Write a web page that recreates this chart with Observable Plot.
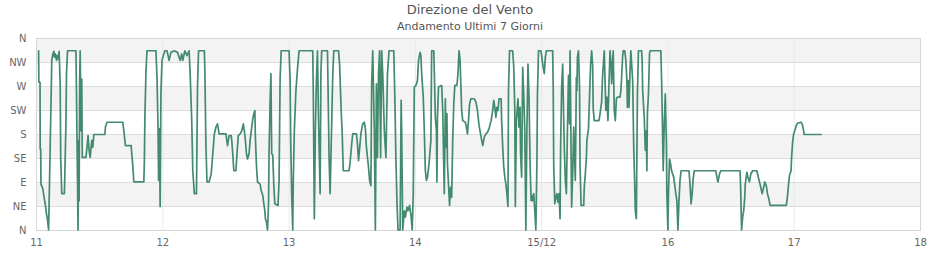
<!DOCTYPE html>
<html>
<head>
<meta charset="utf-8">
<script src="https://cdn.jsdelivr.net/npm/d3@7"></script>
<script src="https://cdn.jsdelivr.net/npm/@observablehq/plot@0.6"></script>
<style>
  body { margin: 0; background: #fff; font-family: "DejaVu Sans", sans-serif; }
  #head { position: relative; width: 940px; height: 32px; }
  #head .t1 { position: absolute; left: 0; top: 2px; width: 940px; text-align: center; font-size: 13px; color: #555; }
  #head .t2 { position: absolute; left: 0; top: 20px; width: 940px; text-align: center; font-size: 11px; color: #555; }
  #chart svg { display: block; }
</style>
</head>
<body>
<div id="head"><div class="t1">Direzione del Vento</div><div class="t2">Andamento Ultimi 7 Giorni</div></div>
<div id="chart"></div>
<script>
// Wind direction readings: [hour of the day, direction in degrees], one list per day of December
const day11 = [[0.4,337],[0.45,278],[0.67,278],[0.7,153],[0.8,153],[0.85,87],[1.2,78],[1.5,59],[1.7,47],[1.9,31],[2.1,19],[2.3,1],[2.4,53],[2.6,156],[2.8,262],[2.9,319],[3.1,331],[3.3,336],[3.4,325],[3.6,331],[3.8,319],[3.95,328],[4.1,322],[4.3,336],[4.5,275],[4.6,137],[4.8,69],[5.3,69],[5.4,112],[5.6,203],[5.7,294],[5.9,337],[7.5,337],[7.6,256],[7.8,87],[7.9,1],[8.0,169],[8.1,56],[8.2,281],[8.3,337],[8.45,187],[8.6,284],[8.7,137],[9.4,137],[9.6,156],[9.8,178],[10.0,150],[10.2,137],[10.5,169],[10.7,156],[10.9,180],[13.0,180],[13.1,194],[13.4,203],[16.4,203],[16.7,178],[16.9,159],[18.0,159],[18.1,144],[18.3,122],[18.5,91],[20.4,91],[20.5,131],[20.6,212],[20.8,297],[21.0,337],[22.7,337],[22.9,287],[23.1,191],[23.2,94],[23.35,191],[23.5,45],[23.65,259],[23.85,319]];
const day12 = [[0.1,328],[0.4,337],[0.8,337],[1.2,319],[1.55,334],[2.2,337],[2.8,334],[3.3,319],[3.6,331],[3.8,319],[4.2,337],[4.6,328],[5.0,337],[5.2,294],[5.5,206],[5.7,112],[6.0,69],[6.4,69],[6.6,269],[6.8,337],[7.9,337],[8.0,297],[8.2,159],[8.4,91],[8.8,91],[9.2,106],[9.5,144],[9.8,181],[10.1,194],[10.4,200],[10.7,181],[12.0,181],[12.3,159],[12.6,178],[13.0,178],[13.1,169],[13.3,144],[13.5,112],[13.9,112],[14.1,144],[14.35,178],[14.7,181],[15.0,187],[15.3,200],[15.5,187],[15.7,169],[15.9,144],[16.1,134],[16.4,144],[16.6,169],[16.9,194],[17.1,209],[17.3,219],[17.5,225],[17.6,175],[17.8,122],[18.0,91],[18.5,87],[18.7,75],[19.0,66],[19.2,50],[19.4,37],[19.5,22],[19.7,16],[19.9,1],[20.1,50],[20.2,147],[20.4,244],[20.55,294],[20.7,144],[20.9,141],[21.1,84],[21.3,50],[21.9,47],[22.1,94],[22.3,287],[22.5,337]];
const day13 = [[0.0,337],[0.2,281],[0.3,172],[0.5,66],[0.7,1],[0.8,94],[1.0,187],[1.3,262],[1.6,303],[1.9,337],[4.5,337],[4.6,259],[4.8,22],[5.0,187],[5.2,284],[5.4,337],[5.6,206],[5.9,69],[6.05,294],[6.2,337],[7.3,337],[7.4,272],[7.6,137],[7.8,69],[8.1,200],[8.3,291],[8.5,337],[9.4,337],[9.6,312],[9.9,225],[10.1,181],[10.3,112],[11.4,112],[11.6,128],[11.9,162],[12.1,181],[12.8,181],[13.0,162],[13.2,131],[13.4,153],[13.65,181],[14.0,200],[14.3,203],[14.5,191],[14.7,156],[14.9,137],[15.1,119],[15.3,94],[15.55,84],[15.7,275],[15.9,337],[16.2,187],[16.4,1],[16.6,275],[16.8,137],[17.0,294],[17.2,337],[17.4,137],[17.6,337],[17.8,294],[18.1,187],[18.4,137],[18.7,294],[19.0,337],[19.9,337],[20.1,250],[20.3,137],[20.5,56],[20.7,1],[21.1,1],[21.3,244],[21.4,187],[21.6,1],[21.9,37],[22.1,25],[22.4,44],[22.6,37],[22.9,47],[23.2,25],[23.4,1],[23.6,69],[23.8,269]];
const day14 = [[0.1,272],[0.4,281],[0.6,319],[0.9,334],[1.05,328],[1.2,294],[1.5,250],[1.7,187],[1.9,112],[2.1,94],[2.3,100],[2.6,125],[2.95,169],[3.1,337],[3.5,337],[3.6,297],[3.8,212],[4.0,187],[4.1,91],[4.2,212],[4.4,269],[5.0,272],[5.2,225],[5.4,119],[5.5,69],[5.7,247],[5.8,156],[6.0,219],[6.1,125],[6.3,87],[6.5,47],[6.7,81],[6.9,62],[7.1,169],[7.3,237],[7.5,272],[7.9,272],[8.1,294],[8.3,337],[8.5,319],[8.65,272],[8.8,225],[9.0,206],[9.5,203],[9.7,194],[9.9,181],[10.1,206],[10.3,237],[10.55,247],[11.2,247],[11.5,241],[11.8,225],[12.1,197],[12.5,175],[12.8,159],[13.1,175],[13.4,181],[13.7,184],[14.0,191],[14.4,206],[14.7,225],[14.9,244],[15.1,231],[15.3,212],[15.5,231],[15.7,225],[15.9,247],[16.3,247],[16.4,206],[16.6,156],[16.8,119],[17.0,100],[17.2,87],[17.4,69],[17.6,45],[17.7,262],[17.9,337],[18.5,337],[18.7,306],[18.9,225],[19.0,45],[19.2,206],[19.5,247],[19.7,194],[19.9,231],[20.0,144],[20.2,100],[20.4,306],[20.6,253],[20.8,187],[21.0,1],[21.2,187],[21.4,312],[21.6,250],[21.8,125],[22.0,56],[22.1,66],[22.3,56],[22.5,69],[22.7,37],[22.9,1],[23.1,125],[23.2,253],[23.4,337],[23.85,337]];
const day15 = [[0.0,328],[0.2,312],[0.5,294],[0.7,325],[0.9,337],[2.1,337],[2.2,266],[2.3,119],[2.5,50],[2.7,62],[2.9,69],[3.1,53],[3.3,69],[3.5,22],[3.6,150],[3.8,269],[4.0,312],[4.1,256],[4.3,156],[4.5,94],[4.7,69],[4.9,187],[5.1,291],[5.3,200],[5.4,337],[5.55,194],[5.7,44],[5.9,106],[6.1,194],[6.2,156],[6.4,94],[6.6,287],[6.7,262],[6.8,325],[7.0,337],[7.2,269],[7.3,119],[7.5,47],[8.0,47],[8.1,81],[8.3,106],[8.5,137],[8.6,169],[8.9,191],[9.1,250],[9.3,309],[9.5,337],[9.7,309],[9.8,228],[10.0,206],[10.9,206],[11.1,219],[11.4,241],[11.6,294],[11.9,337],[12.1,262],[12.2,225],[12.4,250],[12.6,206],[12.8,275],[13.0,337],[13.2,312],[13.3,275],[13.6,337],[13.8,225],[14.0,206],[14.2,247],[14.4,250],[14.9,250],[15.05,262],[15.2,287],[15.4,328],[15.5,337],[15.8,337],[16.0,319],[16.2,281],[16.3,231],[16.45,281],[16.6,231],[16.8,300],[16.95,337],[17.3,281],[17.5,156],[17.7,81],[17.8,37],[18.0,22],[18.2,256],[18.4,337],[19.0,337],[19.1,319],[19.2,262],[19.5,212],[19.7,150],[19.9,187],[20.0,112],[20.1,219],[20.3,256],[20.5,331],[20.6,337],[22.65,337],[22.8,281],[23.0,175],[23.1,112],[23.3,200],[23.5,256],[23.7,169],[23.8,69]];
const day16 = [[0.0,1],[0.1,69],[0.3,134],[0.5,125],[0.7,112],[1.1,100],[1.5,69],[1.7,56],[1.9,1],[2.1,56],[2.3,94],[2.5,112],[4.0,112],[4.2,87],[4.4,50],[4.6,69],[4.8,97],[5.0,112],[9.1,112],[9.3,100],[9.5,91],[9.8,106],[10.05,112],[13.7,112],[13.8,87],[14.0,1],[14.2,25],[14.4,37],[14.6,62],[14.7,87],[15.0,109],[15.2,100],[15.5,91],[15.75,106],[16.1,112],[16.9,112],[17.1,103],[17.4,91],[17.65,81],[17.9,69],[18.2,81],[18.4,91],[18.7,84],[18.9,69],[19.2,59],[19.4,47],[22.5,47],[22.7,62],[22.9,84],[23.1,103],[23.4,112],[23.5,137],[23.7,166],[23.9,181]];
const day17 = [[0.1,187],[0.4,197],[0.6,201],[1.3,203],[1.6,197],[1.9,180],[5.1,180]];

const readingDays = [11, 12, 13, 14, 15, 16, 17];
const readingLists = [day11, day12, day13, day14, day15, day16, day17];

const dayTicks = [11, 12, 13, 14, 15, 16, 17, 18];
const dayLabels = ["11", "12", "13", "14", "15/12", "16", "17", "18"];
const dirTicks = [0, 45, 90, 135, 180, 225, 270, 315, 360];
const dirLabels = ["N", "NE", "E", "SE", "S", "SW", "W", "NW", "N"];
const bandFrom = [45, 135, 225, 315];
const bandTo = [90, 180, 270, 360];

const data = readingLists.flatMap((list, i) =>
  list.map(([h, d]) => ({ t: readingDays[i] + h / 24, dir: d }))
);
const bands = bandFrom.map((f, i) => ({ y1: f, y2: bandTo[i] }));

const chart = Plot.plot({
  width: 940,
  height: 228,
  marginTop: 6,
  marginBottom: 30,
  marginLeft: 36,
  marginRight: 20,
  style: { fontFamily: "DejaVu Sans, sans-serif", fontSize: "10px", color: "#666", background: "#fff" },
  x: { domain: [11, 18], label: null },
  y: { domain: [0, 360], label: null },
  marks: [
    Plot.rect(bands, { y1: "y1", y2: "y2", fill: "#f3f3f3" }),
    Plot.ruleX(dayTicks.slice(1, -1), { stroke: "#e8e8f4" }),
    Plot.ruleY(dirTicks, { stroke: "#dddddd" }),
    Plot.frame({ stroke: "#d6d6d6" }),
    Plot.axisY(dirTicks, { tickSize: 0, tickPadding: 10, label: null, tickFormat: d => dirLabels[dirTicks.indexOf(d)] }),
    Plot.axisX(dayTicks, { tickSize: 0, tickPadding: 8, label: null, tickFormat: d => dayLabels[dayTicks.indexOf(d)] }),
    Plot.line(data, { x: "t", y: "dir", stroke: "#438a6e", strokeWidth: 1.7 })
  ]
});
document.getElementById("chart").appendChild(chart);
</script>
</body>
</html>
